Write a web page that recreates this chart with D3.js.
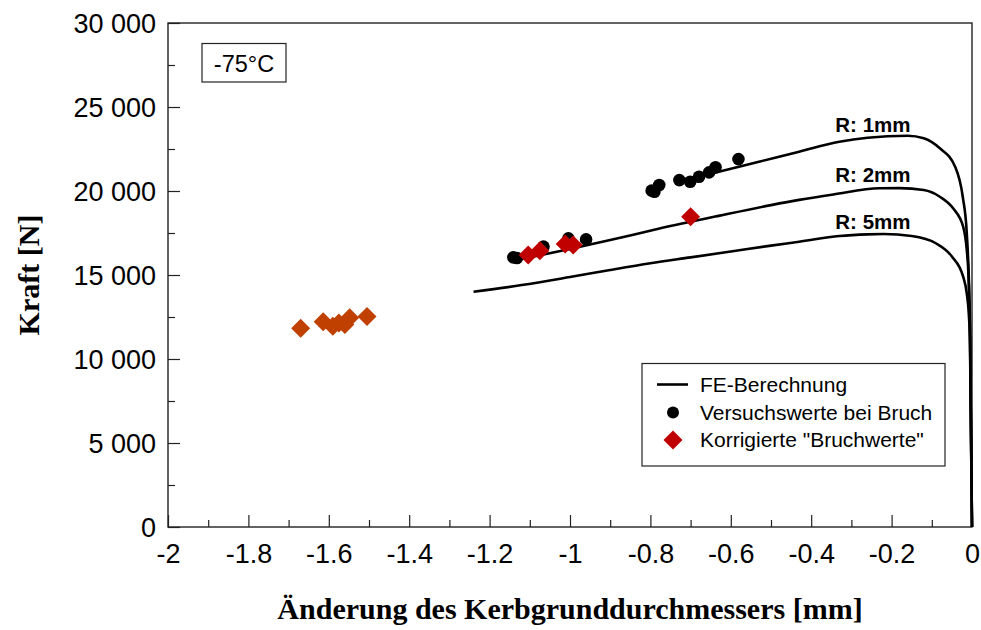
<!DOCTYPE html>
<html>
<head>
<meta charset="utf-8">
<script src="https://cdn.jsdelivr.net/npm/d3@7"></script>
<style>
  html, body { margin: 0; padding: 0; background: #fff; }
  svg { display: block; }
</style>
</head>
<body>
<svg id="chart" width="981" height="630"></svg>
<script>
// FE curves (force vs. change of notch-root diameter) for three notch radii
const r1X = [-0.72, -0.65, -0.53, -0.43, -0.33, -0.26, -0.16, -0.12, -0.08, -0.042, -0.023, -0.013, -0.005, 0];
const r1Y = [20600, 21030, 21740, 22340, 22930, 23170, 23290, 23140, 22540, 21450, 19660, 17500, 12000, 0];

const r2X = [-1.12, -1.0, -0.9, -0.78, -0.63, -0.5, -0.43, -0.345, -0.23, -0.18, -0.12, -0.08, -0.047, -0.022, -0.013, -0.009, -0.005, 0];
const r2Y = [15950, 16550, 17080, 17750, 18520, 19160, 19470, 19790, 20160, 20170, 20060, 19660, 18970, 17880, 16490, 15120, 11500, 0];

const r5X = [-1.24, -1.12, -1.0, -0.9, -0.8, -0.7, -0.6, -0.5, -0.43, -0.33, -0.26, -0.22, -0.15, -0.09, -0.05, -0.022, -0.013, -0.008, -0.005, 0];
const r5Y = [14000, 14400, 14880, 15300, 15700, 16050, 16400, 16750, 16980, 17320, 17420, 17440, 17320, 16890, 16100, 14900, 13900, 12700, 11000, 0];

// Curve labels
const curveLabels = ["R: 1mm", "R: 2mm", "R: 5mm"];
const labelX = [-0.34, -0.34, -0.34];
const labelY = [23510, 20540, 17740];

// Measured values at fracture
const dotX = [-1.141, -1.132, -1.066, -1.004, -0.960, -0.797, -0.790, -0.778, -0.728, -0.701, -0.679, -0.654, -0.638, -0.581];
const dotY = [16050, 16010, 16690, 17180, 17120, 20020, 19960, 20360, 20650, 20550, 20850, 21110, 21410, 21900];

// Corrected fracture values
const diaX = [-1.104, -1.075, -1.012, -0.992, -0.700];
const diaY = [16190, 16450, 16850, 16790, 18470];

// Further corrected values (orange)
const oraX = [-1.670, -1.614, -1.590, -1.575, -1.560, -1.548, -1.505];
const oraY = [11830, 12220, 11950, 12150, 12050, 12450, 12530];

// Axis ticks
const xTicks = [-2, -1.8, -1.6, -1.4, -1.2, -1, -0.8, -0.6, -0.4, -0.2, 0];
const xMinor = [-1.9, -1.7, -1.5, -1.3, -1.1, -0.9, -0.7, -0.5, -0.3, -0.1];
const yTicks = [0, 5000, 10000, 15000, 20000, 25000, 30000];
const yMinor = [2500, 7500, 12500, 17500, 22500, 27500];

const legendItems = ["FE-Berechnung", "Versuchswerte bei Bruch", "Korrigierte \"Bruchwerte\""];

const SANS = "'Liberation Sans', Arial, Helvetica, sans-serif";
const SERIF = "'Liberation Serif', 'Times New Roman', Times, serif";

const svg = d3.select("#chart");
const margin = { left: 168, right: 9, top: 23, bottom: 103 };
const W = 981, H = 630;
const iw = W - margin.left - margin.right;
const ih = H - margin.top - margin.bottom;

const x = d3.scaleLinear().domain([-2, 0]).range([margin.left, margin.left + iw]);
const y = d3.scaleLinear().domain([0, 30000]).range([margin.top + ih, margin.top]);

const fmtY = v => {
  const s = String(v);
  return v >= 1000 ? s.slice(0, s.length - 3) + " " + s.slice(-3) : s;
};
const fmtX = v => String(v);

// Axes with inward ticks
const gx = svg.append("g").attr("transform", `translate(0,${y(0)})`)
  .call(d3.axisBottom(x).tickValues(xTicks).tickSize(-12).tickSizeOuter(0).tickFormat(fmtX));
gx.select(".domain").remove();
gx.selectAll("line").attr("stroke", "#222").attr("stroke-width", 1.2);
gx.selectAll("text").attr("y", 36).attr("dy", null)
  .attr("font-family", SANS).attr("font-size", 27).attr("fill", "#000");

const gxm = svg.append("g").attr("transform", `translate(0,${y(0)})`)
  .call(d3.axisBottom(x).tickValues(xMinor).tickSize(-7).tickSizeOuter(0).tickFormat(""));
gxm.select(".domain").remove();
gxm.selectAll("line").attr("stroke", "#222").attr("stroke-width", 1.2);

const gy = svg.append("g").attr("transform", `translate(${x(-2)},0)`)
  .call(d3.axisLeft(y).tickValues(yTicks).tickSize(-12).tickSizeOuter(0).tickPadding(12).tickFormat(fmtY));
gy.select(".domain").remove();
gy.selectAll("line").attr("stroke", "#222").attr("stroke-width", 1.2);
gy.selectAll("text").attr("dy", "0.36em")
  .attr("font-family", SANS).attr("font-size", 27).attr("fill", "#000");

const gym = svg.append("g").attr("transform", `translate(${x(-2)},0)`)
  .call(d3.axisLeft(y).tickValues(yMinor).tickSize(-7).tickSizeOuter(0).tickFormat(""));
gym.select(".domain").remove();
gym.selectAll("line").attr("stroke", "#222").attr("stroke-width", 1.2);

// Plot frame
svg.append("rect")
  .attr("x", x(-2)).attr("y", y(30000))
  .attr("width", x(0) - x(-2)).attr("height", y(0) - y(30000))
  .attr("fill", "none").attr("stroke", "#222").attr("stroke-width", 1.4);

// FE curves
const line = d3.line().x(d => x(d[0])).y(d => y(d[1])).curve(d3.curveMonotoneX);
[[r1X, r1Y], [r2X, r2Y], [r5X, r5Y]].forEach(([xs, ys]) => {
  svg.append("path")
    .datum(xs.map((v, i) => [v, ys[i]]))
    .attr("d", line)
    .attr("fill", "none").attr("stroke", "#000").attr("stroke-width", 2.6)
    .attr("stroke-linejoin", "round");
});

svg.selectAll("text.rlabel").data(curveLabels).enter().append("text")
  .attr("class", "rlabel")
  .attr("x", (d, i) => x(labelX[i])).attr("y", (d, i) => y(labelY[i]))
  .attr("font-family", SANS).attr("font-weight", "bold").attr("font-size", 20.5)
  .attr("fill", "#000").text(d => d);

// Markers
const diamond = s => `M0,${-s}L${s},0L0,${s}L${-s},0Z`;

svg.append("g").selectAll("path").data(oraX).enter().append("path")
  .attr("d", diamond(9.5))
  .attr("transform", (d, i) => `translate(${x(d)},${y(oraY[i])})`)
  .attr("fill", "#C04000");

svg.append("g").selectAll("circle").data(dotX).enter().append("circle")
  .attr("cx", d => x(d)).attr("cy", (d, i) => y(dotY[i]))
  .attr("r", 6.3).attr("fill", "#000");

svg.append("g").selectAll("path").data(diaX).enter().append("path")
  .attr("d", diamond(9.5))
  .attr("transform", (d, i) => `translate(${x(d)},${y(diaY[i])})`)
  .attr("fill", "#C00000");

// Temperature box
const tb = svg.append("g");
tb.append("rect").attr("x", 202).attr("y", 43.5).attr("width", 84).attr("height", 38.5)
  .attr("fill", "#fff").attr("stroke", "#222").attr("stroke-width", 1.2);
tb.append("text").attr("x", 244).attr("y", 72).attr("text-anchor", "middle")
  .attr("font-family", SANS).attr("font-size", 23.5).attr("fill", "#000").text("-75°C");

// Legend
const lg = svg.append("g");
lg.append("rect").attr("x", 642).attr("y", 363.5).attr("width", 303).attr("height", 102.5)
  .attr("fill", "#fff").attr("stroke", "#222").attr("stroke-width", 1.2);
lg.append("line").attr("x1", 657).attr("x2", 688).attr("y1", 384.5).attr("y2", 384.5)
  .attr("stroke", "#000").attr("stroke-width", 2.6);
lg.append("circle").attr("cx", 673).attr("cy", 412.5).attr("r", 6).attr("fill", "#000");
lg.append("path").attr("d", diamond(9.5)).attr("transform", "translate(673,440)").attr("fill", "#C00000");
lg.selectAll("text").data(legendItems).enter().append("text")
  .attr("x", 700).attr("y", (d, i) => 392 + i * 27.5)
  .attr("font-family", SANS).attr("font-size", 21).attr("fill", "#000").text(d => d);

// Axis titles
svg.append("text")
  .attr("x", (x(-2) + x(0)) / 2).attr("y", 619).attr("text-anchor", "middle")
  .attr("font-family", SERIF).attr("font-weight", "bold").attr("font-size", 30)
  .attr("fill", "#000").text("Änderung des Kerbgrunddurchmessers [mm]");

svg.append("text")
  .attr("transform", `translate(39,${(y(0) + y(30000)) / 2}) rotate(-90)`)
  .attr("text-anchor", "middle")
  .attr("font-family", SERIF).attr("font-weight", "bold").attr("font-size", 30)
  .attr("fill", "#000").text("Kraft [N]");
</script>
</body>
</html>
